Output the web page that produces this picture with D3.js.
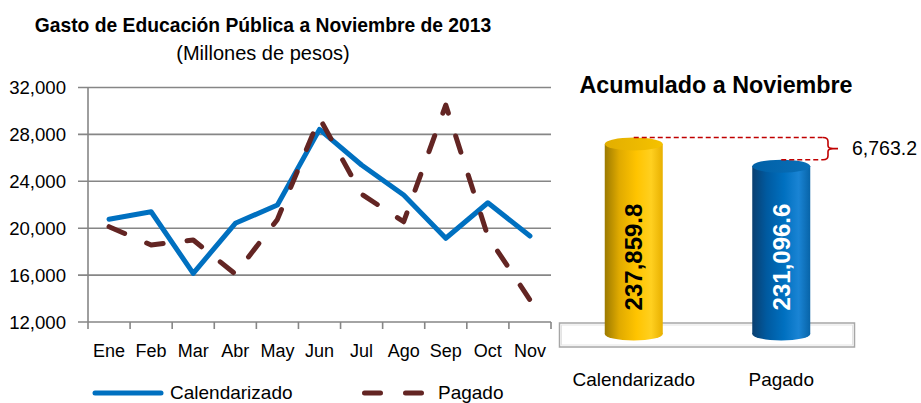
<!DOCTYPE html>
<html><head><meta charset="utf-8">
<script src="https://cdn.jsdelivr.net/npm/d3@7"></script>
<style>
html,body{margin:0;padding:0;background:#fff;}
svg{display:block;font-family:"Liberation Sans",Arial,sans-serif;}
</style></head>
<body>
<svg id="c" width="921" height="403"></svg>
<script>
// ---- data ----
const months = ["Ene","Feb","Mar","Abr","May","Jun","Jul","Ago","Sep","Oct","Nov"];
const calendarizado = [20760,21400,16150,20420,21980,28430,25390,22830,19140,22170,19330];
const pagado = [20130,18570,18990,16090,20750,29400,22900,20550,30500,19300,13880];
const yTicks = [12000,16000,20000,24000,28000,32000];
const seriesNames = ["Calendarizado","Pagado"];
const totals = [237859.8, 231096.6];
const difference = 6763.2;

const svg = d3.select("#c");
const fmt0 = d3.format(",.0f");
const fmt1 = d3.format(",.1f");

// ---- titles ----
svg.append("text").attr("x",263).attr("y",31.5).attr("text-anchor","middle")
  .attr("font-weight","bold").attr("font-size",19.3).text("Gasto de Educación Pública a Noviembre de 2013");
svg.append("text").attr("x",263).attr("y",60).attr("text-anchor","middle")
  .attr("font-size",20).text("(Millones de pesos)");

// ---- line chart ----
const x = d3.scaleBand().domain(months).range([88,551]);
const y = d3.scaleLinear().domain([12000,32000]).range([322,87.5]);
const gridCol = "#868686";

const g = svg.append("g");
g.selectAll("line.grid").data(yTicks).join("line").attr("class","grid")
  .attr("x1",78).attr("x2",551).attr("y1",d=>y(d)).attr("y2",d=>y(d))
  .attr("stroke",gridCol).attr("stroke-width",1.6);
g.append("line").attr("x1",88).attr("x2",88).attr("y1",y(32000)).attr("y2",329)
  .attr("stroke",gridCol).attr("stroke-width",1.6);
g.selectAll("line.xt").data(months).join("line").attr("class","xt")
  .attr("x1",(d,i)=>x(months[0])+x.step()*(i+1)).attr("x2",(d,i)=>x(months[0])+x.step()*(i+1))
  .attr("y1",322).attr("y2",329).attr("stroke",gridCol).attr("stroke-width",1.6);
g.selectAll("text.yl").data(yTicks).join("text").attr("class","yl")
  .attr("x",66).attr("y",d=>y(d)+6.7).attr("text-anchor","end").attr("font-size",18.6)
  .text(d=>fmt0(d));
g.selectAll("text.xl").data(months).join("text").attr("class","xl")
  .attr("x",d=>x(d)+x.bandwidth()/2).attr("y",356.5).attr("text-anchor","middle")
  .attr("font-size",18).text(d=>d);

const line = d3.line().x((d,i)=>x(months[i])+x.bandwidth()/2).y(d=>y(d));
g.append("path").datum(calendarizado).attr("d",line).attr("fill","none")
  .attr("stroke","#0070C0").attr("stroke-width",5).attr("stroke-linejoin","round").attr("stroke-linecap","round");
g.append("path").datum(pagado).attr("d",line).attr("fill","none")
  .attr("stroke","#632523").attr("stroke-width",5).attr("stroke-linejoin","round")
  .attr("stroke-linecap","round").attr("stroke-dasharray","17,24");

// legend
g.append("line").attr("x1",95).attr("x2",161).attr("y1",393).attr("y2",393)
  .attr("stroke","#0070C0").attr("stroke-width",5).attr("stroke-linecap","round");
g.append("text").attr("x",170).attr("y",398.5).attr("font-size",19).text(seriesNames[0]);
g.append("line").attr("x1",364.5).attr("x2",425).attr("y1",393).attr("y2",393)
  .attr("stroke","#632523").attr("stroke-width",5).attr("stroke-linecap","round").attr("stroke-dasharray","16,25");
g.append("text").attr("x",438).attr("y",398.5).attr("font-size",19).text(seriesNames[1]);

// ---- cylinder chart ----
svg.append("text").attr("x",716).attr("y",93.3).attr("text-anchor","middle")
  .attr("font-weight","bold").attr("font-size",23.3).text("Acumulado a Noviembre");

const defs = svg.append("defs");
function grad(id, stops){
  const gr = defs.append("linearGradient").attr("id",id).attr("x1","0%").attr("x2","100%").attr("y1","0").attr("y2","0");
  stops.forEach(s=>gr.append("stop").attr("offset",s[0]).attr("stop-color",s[1]));
}
grad("gold",[["0%","#9c7a00"],["25%","#e0aa00"],["55%","#ffc400"],["80%","#ffd020"],["100%","#e8b000"]]);
grad("goldTop",[["0%","#e2ae00"],["100%","#f5c200"]]);
grad("blue",[["0%","#0a3f70"],["25%","#005aa0"],["55%","#0070C0"],["80%","#1a84d4"],["100%","#0864a8"]]);
grad("blueTop",[["0%","#0060a6"],["100%","#0a6fb8"]]);

const xc = d3.scalePoint().domain(seriesNames).range([560,855]).padding(0.5);
const yc = d3.scaleLinear().domain([180000,250000]).range([334, 334-70000*(190/57859.8)]);
const rx = 29, ry = 6.5;

// floor
svg.append("rect").attr("x",559.5).attr("y",323).attr("width",295).attr("height",24)
  .attr("fill","#ffffff").attr("stroke","#a6a6a6").attr("stroke-width",1.5);
svg.append("rect").attr("x",561.5).attr("y",325).attr("width",291).attr("height",20)
  .attr("fill","none").attr("stroke","#e4e4e4").attr("stroke-width",1);

const fills = ["gold","blue"], tops = ["goldTop","blueTop"], labCol = ["#000","#fff"];
const cyl = svg.selectAll("g.cyl").data(seriesNames).join("g").attr("class","cyl");
cyl.append("rect").attr("x",d=>xc(d)-rx).attr("width",2*rx)
  .attr("y",(d,i)=>yc(totals[i])).attr("height",(d,i)=>yc(180000)-yc(totals[i]))
  .attr("fill",(d,i)=>`url(#${fills[i]})`);
cyl.append("ellipse").attr("cx",d=>xc(d)).attr("cy",yc(180000)).attr("rx",rx).attr("ry",ry)
  .attr("fill",(d,i)=>`url(#${fills[i]})`);
cyl.append("ellipse").attr("cx",d=>xc(d)).attr("cy",(d,i)=>yc(totals[i])).attr("rx",rx).attr("ry",ry)
  .attr("fill",(d,i)=>`url(#${tops[i]})`);
cyl.append("text").attr("transform",(d,i)=>`translate(${xc(d)+8.5},257) rotate(-90)`)
  .attr("text-anchor","middle").attr("font-weight","bold").attr("font-size",24)
  .attr("fill",(d,i)=>labCol[i]).text((d,i)=>fmt1(totals[i]));

svg.selectAll("text.cat").data(seriesNames).join("text").attr("class","cat")
  .attr("x",d=>xc(d)).attr("y",385.5).attr("text-anchor","middle").attr("font-size",19).text(d=>d);

// difference bracket
const yTop = yc(totals[0]) - ry, yBot = yc(totals[1]) - ry, bx = 823;
const red = "#C00000";
svg.append("line").attr("x1",xc(seriesNames[0])).attr("x2",bx).attr("y1",yTop).attr("y2",yTop)
  .attr("stroke",red).attr("stroke-width",1.6).attr("stroke-dasharray","5,3");
svg.append("line").attr("x1",xc(seriesNames[1])).attr("x2",bx).attr("y1",yBot).attr("y2",yBot)
  .attr("stroke",red).attr("stroke-width",1.6).attr("stroke-dasharray","5,3");
const ym = (yTop+yBot)/2;
svg.append("path").attr("fill","none").attr("stroke",red).attr("stroke-width",1.6)
  .attr("d",`M${bx},${yTop} Q${bx+5},${yTop} ${bx+5},${yTop+4} L${bx+5},${ym-3} Q${bx+5},${ym} ${bx+10},${ym} L${bx+15},${ym} M${bx+10},${ym} Q${bx+5},${ym} ${bx+5},${ym+3} L${bx+5},${yBot-4} Q${bx+5},${yBot} ${bx},${yBot}`);
svg.append("text").attr("x",852).attr("y",ym+6.5).attr("font-size",19.5).text(fmt1(difference));
</script>
</body></html>
